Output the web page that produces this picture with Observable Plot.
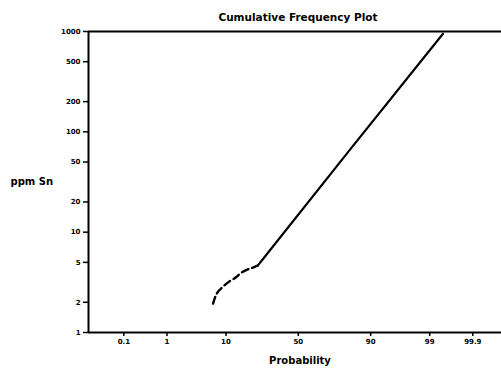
<!DOCTYPE html>
<html>
<head>
<meta charset="utf-8">
<script src="https://cdn.jsdelivr.net/npm/d3@7"></script>
<script src="https://cdn.jsdelivr.net/npm/@observablehq/plot@0.6"></script>
<style>
  html, body { margin: 0; padding: 0; background: #fff; }
  #chart svg { display: block; }
</style>
</head>
<body>
<div id="chart"></div>
<script>
// ---- data ----
// dashed (low-grade) segment: cumulative probability (%) and ppm Sn
const dashedProb = [6.55, 7.1, 7.9, 9.5, 11.2, 13.6, 15.5, 18.9, 20.6, 23.6];
const dashedPpm  = [1.94, 2.29, 2.59, 2.95, 3.24, 3.57, 3.92, 4.30, 4.40, 4.64];
// solid segment
const solidProb = [23.6, 26.0, 81.9, 99.48];
const solidPpm  = [4.64, 5.25, 66.1, 950];

const probTicks  = [0.1, 1, 10, 50, 90, 99, 99.9];
const probLabels = ["0.1", "1", "10", "50", "90", "99", "99.9"];
const ppmTicks   = [1, 2, 5, 10, 20, 50, 100, 200, 500, 1000];
const ppmLabels  = ["1", "2", "5", "10", "20", "50", "100", "200", "500", "1000"];
const probDomain = [0.0101, 99.984];
const ppmDomain  = [1, 1000];

// inverse standard normal CDF (Acklam) for the probability axis
function probit(p) {
  const a=[-3.969683028665376e+01,2.209460984245205e+02,-2.759285104469687e+02,1.383577518672690e+02,-3.066479806614716e+01,2.506628277459239e+00];
  const b=[-5.447609879822406e+01,1.615858368580409e+02,-1.556989798598866e+02,6.680131188771972e+01,-1.328068155288572e+01];
  const c=[-7.784894002430293e-03,-3.223964580411365e-01,-2.400758277161838e+00,-2.549732539343734e+00,4.374664141464968e+00,2.938163982698783e+00];
  const d=[7.784695709041462e-03,3.224671290700398e-01,2.445134137142996e+00,3.754408661907416e+00];
  const pl = 0.02425, ph = 1 - pl;
  let q, r;
  if (p < pl) { q = Math.sqrt(-2*Math.log(p)); return (((((c[0]*q+c[1])*q+c[2])*q+c[3])*q+c[4])*q+c[5])/((((d[0]*q+d[1])*q+d[2])*q+d[3])*q+1); }
  if (p <= ph) { q = p - 0.5; r = q*q; return (((((a[0]*r+a[1])*r+a[2])*r+a[3])*r+a[4])*r+a[5])*q/(((((b[0]*r+b[1])*r+b[2])*r+b[3])*r+b[4])*r+1); }
  q = Math.sqrt(-2*Math.log(1-p)); return -(((((c[0]*q+c[1])*q+c[2])*q+c[3])*q+c[4])*q+c[5])/((((d[0]*q+d[1])*q+d[2])*q+d[3])*q+1);
}
const z = pct => probit(pct / 100);

const dashed = dashedProb.map((p, i) => ({p, v: dashedPpm[i]}));
const solid  = solidProb.map((p, i) => ({p, v: solidPpm[i]}));
const xTicks = probTicks.map((p, i) => ({z: z(p), label: probLabels[i]}));
const yTicks = ppmTicks.map((v, i) => ({v, label: ppmLabels[i]}));

const font = "'DejaVu Sans', sans-serif";

const chart = Plot.plot({
  width: 501,
  height: 375,
  marginLeft: 88,
  marginRight: 0,
  marginTop: 31,
  marginBottom: 43,
  style: {fontFamily: font, background: "#fff", color: "#000"},
  x: {type: "linear", domain: probDomain.map(z)},
  y: {type: "log", domain: ppmDomain},
  marks: [
    // tick marks only; labels drawn as text marks below
    Plot.axisY({ticks: ppmTicks, tickFormat: () => "", tickSize: 5, strokeWidth: 1.5, label: null}),
    Plot.axisX({ticks: xTicks.map(d => d.z), tickFormat: () => "", tickSize: 4, strokeWidth: 1.5, label: null}),
    Plot.text(yTicks, {y: "v", text: "label", frameAnchor: "left", dx: -8, textAnchor: "end",
      fontSize: 7, fontWeight: "bold"}),
    Plot.text(xTicks, {x: "z", text: "label", frameAnchor: "bottom", dy: 11,
      fontSize: 7, fontWeight: "bold"}),
    Plot.ruleY([ppmDomain[0]], {strokeWidth: 2}),
    Plot.ruleY([ppmDomain[1]], {strokeWidth: 2}),
    Plot.ruleX([probDomain[0]], {x: d => z(d), strokeWidth: 2}),
    Plot.line(dashed, {x: d => z(d.p), y: "v", strokeWidth: 2.4, strokeDasharray: "7,4", curve: "natural"}),
    Plot.line(solid, {x: d => z(d.p), y: "v", strokeWidth: 2.2, curve: "linear"}),
    Plot.text(["Cumulative Frequency Plot"], {frameAnchor: "top", dx: 3, dy: -18,
      fontSize: 10.5, fontWeight: "bold"}),
    Plot.text(["ppm Sn"], {frameAnchor: "left", dx: -78, textAnchor: "start",
      fontSize: 10, fontWeight: "bold"}),
    Plot.text(["Probability"], {frameAnchor: "bottom", dx: 5, dy: 31,
      fontSize: 10, fontWeight: "bold"})
  ]
});
document.getElementById("chart").appendChild(chart);
</script>
</body>
</html>
